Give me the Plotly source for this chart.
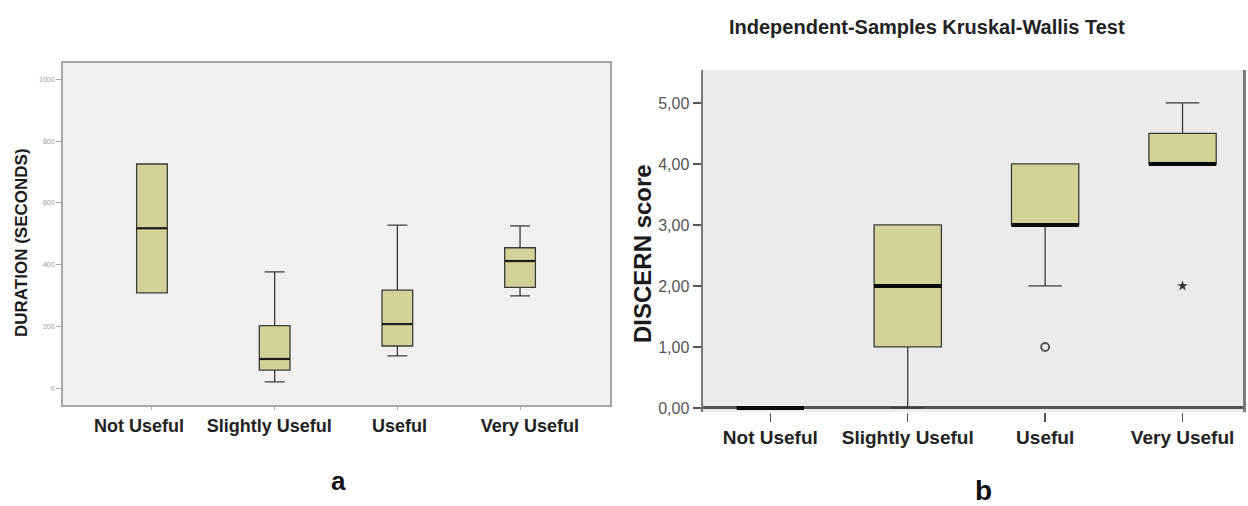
import plotly.graph_objects as go

# ---------------- data ----------------
categories = ["Not Useful", "Slightly Useful", "Useful", "Very Useful"]
positions = [0, 1, 2, 3]

# (a) Duration in seconds
dur_lower = [309, 21, 105, 299]
dur_q1 = [309, 59, 137, 327]
dur_median = [518, 95, 208, 412]
dur_q3 = [726, 203, 318, 455]
dur_upper = [726, 377, 528, 526]
dur_ticks = [0, 200, 400, 600, 800, 1000]

# (b) DISCERN score
dis_lower = [0, 0, 2, 4]
dis_q1 = [0, 1, 3, 4]
dis_median = [0, 2, 3, 4]
dis_q3 = [0, 3, 4, 4.5]
dis_upper = [0, 3, 4, 5]
dis_ticks = [0, 1, 2, 3, 4, 5]
dis_ticktext = ["0,00", "1,00", "2,00", "3,00", "4,00", "5,00"]
outlier_pos = [2]          # Useful
outlier_val = [1]
extreme_pos = [3]          # Very Useful
extreme_val = [2]

# ---------------- style ----------------
FILL = "#D4D197"
EDGE = "#3a3a3a"
SANS = "Liberation Sans, Arial, sans-serif"
W_A = 0.25
W_B = 0.49

fig = go.Figure()

# ---- chart a ----
fig.add_trace(go.Box(
    x=positions, q1=dur_q1, median=dur_median, q3=dur_q3,
    lowerfence=dur_lower, upperfence=dur_upper,
    width=W_A, whiskerwidth=0.65, fillcolor=FILL,
    line=dict(color=EDGE, width=1.3), boxpoints=False,
    xaxis="x", yaxis="y", showlegend=False, hoverinfo="skip"))
for p, m in zip(positions, dur_median):
    fig.add_trace(go.Scatter(
        x=[p - W_A / 2, p + W_A / 2], y=[m, m], mode="lines",
        line=dict(color="#1e1e1e", width=2.2), xaxis="x", yaxis="y",
        showlegend=False, hoverinfo="skip"))
# empty trace anchoring the label axis
fig.add_trace(go.Scatter(x=[], y=[], xaxis="x3", yaxis="y", showlegend=False))

# ---- chart b ----
fig.add_trace(go.Box(
    x=positions, q1=dis_q1, median=dis_median, q3=dis_q3,
    lowerfence=dis_lower, upperfence=dis_upper,
    width=W_B, whiskerwidth=0.5, fillcolor=FILL,
    line=dict(color=EDGE, width=1.3), boxpoints=False,
    xaxis="x2", yaxis="y2", showlegend=False, hoverinfo="skip"))
for p, m in zip(positions, dis_median):
    fig.add_trace(go.Scatter(
        x=[p - W_B / 2, p + W_B / 2], y=[m, m], mode="lines",
        line=dict(color="#0a0a0a", width=4), xaxis="x2", yaxis="y2",
        showlegend=False, hoverinfo="skip"))
fig.add_trace(go.Scatter(
    x=outlier_pos, y=outlier_val, mode="markers",
    marker=dict(symbol="circle-open", size=8, color="#555555", line=dict(width=2)),
    xaxis="x2", yaxis="y2", showlegend=False, hoverinfo="skip"))
fig.add_trace(go.Scatter(
    x=extreme_pos, y=extreme_val, mode="markers",
    marker=dict(symbol="star", size=8, color="#333333"),
    xaxis="x2", yaxis="y2", showlegend=False, hoverinfo="skip"))

W, H = 1248, 506
bold_cats = ["<b>%s</b>" % c for c in categories]

fig.update_layout(
    template="none",
    width=W, height=H,
    margin=dict(l=0, r=0, t=0, b=0, pad=0),
    paper_bgcolor="white",
    plot_bgcolor="#F0F0F0",
    showlegend=False,
    xaxis=dict(
        domain=[63 / W, 610 / W], range=[-0.725, 3.733], automargin=False,
        tickvals=positions, showticklabels=False,
        ticks="outside", ticklen=3, tickcolor="#aaaaaa",
        showline=True, mirror=True, linecolor="#a8a8a8", linewidth=2,
        showgrid=False, zeroline=False, fixedrange=True),
    xaxis3=dict(
        overlaying="x", anchor="y", side="bottom", automargin=False,
        range=[-0.583, 3.615], tickvals=positions, ticktext=bold_cats,
        tickangle=0,
        tickfont=dict(family=SANS, size=18, color="#222222"),
        ticks="", showline=False, showgrid=False, zeroline=False,
        ticklabelstandoff=8),
    yaxis=dict(
        domain=[(H - 405) / H, (H - 63) / H], range=[-54, 1053], automargin=False,
        tickvals=dur_ticks, tickfont=dict(family=SANS, size=7, color="#999999"),
        ticks="outside", ticklen=5, tickcolor="#aaaaaa",
        showline=True, mirror=True, linecolor="#a8a8a8", linewidth=2,
        showgrid=False, zeroline=False, fixedrange=True),
    xaxis2=dict(
        domain=[703 / W, 1243 / W], range=[-0.49, 3.44], anchor="y2", automargin=False,
        tickvals=positions, ticktext=bold_cats, tickangle=0,
        tickfont=dict(family=SANS, size=19, color="#222222"),
        ticks="outside", ticklen=9, tickcolor="#555555", tickwidth=1.5,
        showline=False, showgrid=False, zeroline=False, fixedrange=True),
    yaxis2=dict(
        domain=[(H - 411.6) / H, (H - 70) / H], range=[-0.06, 5.54], anchor="x2",
        automargin=False,
        tickvals=dis_ticks, ticktext=dis_ticktext,
        tickfont=dict(family=SANS, size=16, color="#555555"),
        ticks="outside", ticklen=8, tickcolor="#555555", tickwidth=1.5,
        showline=True, mirror=True, linecolor="#7a7a7a", linewidth=2.5,
        zeroline=True, zerolinecolor="#555555", zerolinewidth=3,
        showgrid=False, fixedrange=True),
    shapes=[dict(type="rect", xref="x2 domain", yref="y2 domain",
                 x0=0, x1=1, y0=0, y1=1, fillcolor="#EBEBEB",
                 line=dict(width=0), layer="below")],
    annotations=[
        dict(text="<b>Independent-Samples Kruskal-Wallis Test</b>", x=927 / W, y=(H - 27) / H,
             xref="paper", yref="paper", showarrow=False,
             font=dict(family=SANS, size=20, color="#222222"), xanchor="center", yanchor="middle"),
        dict(text="<b>DURATION (SECONDS)</b>", x=21 / W, y=(H - 243) / H,
             xref="paper", yref="paper", showarrow=False, textangle=-90,
             font=dict(family=SANS, size=17, color="#1a1a1a"), xanchor="center", yanchor="middle"),
        dict(text="<b>DISCERN score</b>", x=642 / W, y=(H - 253) / H,
             xref="paper", yref="paper", showarrow=False, textangle=-90,
             font=dict(family=SANS, size=24, color="#1a1a1a"), xanchor="center", yanchor="middle"),
        dict(text="<b>a</b>", x=338 / W, y=(H - 481) / H,
             xref="paper", yref="paper", showarrow=False,
             font=dict(family=SANS, size=26, color="#111111"), xanchor="center", yanchor="middle"),
        dict(text="<b>b</b>", x=983 / W, y=(H - 490) / H,
             xref="paper", yref="paper", showarrow=False,
             font=dict(family=SANS, size=28, color="#111111"), xanchor="center", yanchor="middle"),
    ],
)

fig.write_html("out.html",
               config={"displayModeBar": False, "staticPlot": True},
               post_script="document.body.style.margin='0';document.body.style.overflow='hidden';")
